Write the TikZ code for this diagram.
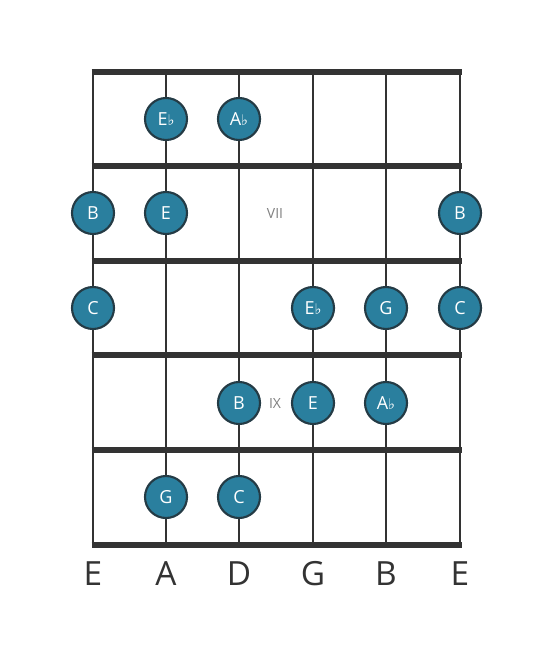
\documentclass[tikz,border=0pt]{standalone}
\usepackage{fontspec}
\setmainfont{Open Sans}
\newfontfamily\symfont{DejaVu Sans}
\definecolor{wire}{HTML}{333333}
\definecolor{dotfill}{HTML}{2A7F9E}
\definecolor{dotline}{HTML}{243B45}
\newcommand{\fl}{{\symfont\fontsize{11pt}{11pt}\selectfont ♭}}
\tikzset{
  fretline/.style={line width=3.8pt, draw=wire},
  strline/.style={line width=2.1pt, draw=wire},
  notedot/.style={circle, minimum size=31.5pt, inner sep=0pt, fill=dotfill, draw=dotline, line width=1.6pt, text=white, font=\fontsize{13.5pt}{13.5pt}\selectfont},
  strname/.style={text=wire, font=\fontsize{25pt}{25pt}\selectfont},
  posmark/.style={text=black!50, font=\fontsize{10.5pt}{10.5pt}\selectfont}
}
\begin{document}
\begin{tikzpicture}[x=0.75pt,y=-0.75pt]
\useasboundingbox (0,0) rectangle (553,656);
% strings
\foreach \x/\n in {93/s1,166/s2,239/s3,313/s4,386/s5,460/s6} {
  \coordinate (\n t) at (\x,72);
  \coordinate (\n b) at (\x,545);
  \draw[strline] (\n t) -- (\n b);
}
% frets
\foreach \y/\n in {72/f0,166/f1,261/f2,355/f3,450/f4,545/f5} {
  \coordinate (\n l) at (91.5,\y);
  \coordinate (\n r) at (461.5,\y);
  \draw[fretline] (\n l) -- (\n r);
}
% position marks
\node[posmark] (vii) at (275,214) {VII};
\node[posmark] (ix) at (275,403) {IX};
% notes
\node[notedot] (n1) at (166,119) {E\fl};
\node[notedot] (n2) at (239,119) {A\fl};
\node[notedot] (n3) at (93,213) {B};
\node[notedot] (n4) at (166,213) {E};
\node[notedot] (n5) at (460,213) {B};
\node[notedot] (n6) at (93,308) {C};
\node[notedot] (n7) at (313,308) {E\fl};
\node[notedot] (n8) at (386,308) {G};
\node[notedot] (n9) at (460,308) {C};
\node[notedot] (n10) at (239,403) {B};
\node[notedot] (n11) at (313,403) {E};
\node[notedot] (n12) at (386,403) {A\fl};
\node[notedot] (n13) at (166,497) {G};
\node[notedot] (n14) at (239,497) {C};
% string names
\node[strname] (l1) at (93,574) {E};
\node[strname] (l2) at (166,574) {A};
\node[strname] (l3) at (239,574) {D};
\node[strname] (l4) at (313,574) {G};
\node[strname] (l5) at (386,574) {B};
\node[strname] (l6) at (460,574) {E};
\end{tikzpicture}
\end{document}
